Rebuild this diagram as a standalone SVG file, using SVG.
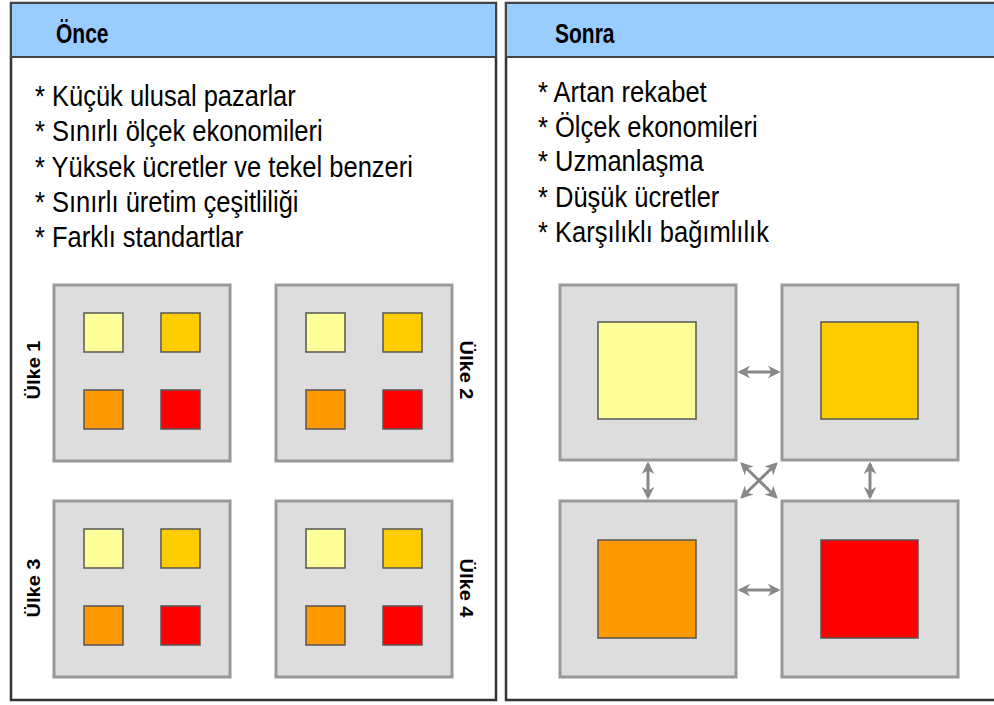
<svg xmlns="http://www.w3.org/2000/svg" width="994" height="705" viewBox="0 0 994 705">
<style>
.panel{fill:#fff;stroke:#333;stroke-width:2.5}
.hdr{fill:#99CCFF;stroke:#444;stroke-width:2}
.title{font-family:"Liberation Sans",Arial,sans-serif;font-weight:bold;font-size:21px;fill:#000}
.item{font-family:"Liberation Sans",Arial,sans-serif;font-size:25.5px;fill:#000}
.lbl{font-family:"Liberation Sans",Arial,sans-serif;font-weight:bold;font-size:18.5px;fill:#000}
.box{fill:#DDDDDD;stroke:#999;stroke-width:3}
.sq{stroke:#555;stroke-width:1.5}
.c1{fill:#FFFF99}.c2{fill:#FFCC00}.c3{fill:#FF9900}.c4{fill:#FF0000}
.arr{stroke:#888;stroke-width:3;fill:none;marker-start:url(#ah);marker-end:url(#ah)}
</style>
<defs>
<marker id="ah" viewBox="0 0 10 10" refX="8" refY="5" markerWidth="4.2" markerHeight="4.2" orient="auto-start-reverse" markerUnits="strokeWidth">
<path d="M0,0 L10,5 L0,10 L3,5 Z" fill="#888"/>
</marker>
</defs>
<g id="panel-once">
<rect class="panel" x="11" y="3" width="485" height="697"/>
<rect class="hdr" x="11" y="3" width="485" height="54"/>
<text class="title" transform="translate(56,43) scale(1,1.3)">Önce</text>
<g class="item">
<text transform="translate(35,106) scale(1,1.16)">* Küçük ulusal pazarlar</text>
<text transform="translate(35,141) scale(1,1.16)">* Sınırlı ölçek ekonomileri</text>
<text transform="translate(35,177) scale(1,1.16)">* Yüksek ücretler ve tekel benzeri</text>
<text transform="translate(35,212) scale(1,1.16)">* Sınırlı üretim çeşitliliği</text>
<text transform="translate(35,247) scale(1,1.16)">* Farklı standartlar</text>
</g>
</g>
<g id="ulke1">
<rect class="box" x="54" y="285" width="176" height="176"/>
<rect class="sq c1" x="84" y="313" width="39" height="39"/>
<rect class="sq c2" x="161" y="313" width="39" height="39"/>
<rect class="sq c3" x="84" y="390" width="39" height="39"/>
<rect class="sq c4" x="161" y="390" width="39" height="39"/>
<text class="lbl" transform="translate(40,370) rotate(-90) scale(1.08,1)" text-anchor="middle">Ülke 1</text>
</g>
<g id="ulke2">
<rect class="box" x="276" y="285" width="176" height="176"/>
<rect class="sq c1" x="306" y="313" width="39" height="39"/>
<rect class="sq c2" x="383" y="313" width="39" height="39"/>
<rect class="sq c3" x="306" y="390" width="39" height="39"/>
<rect class="sq c4" x="383" y="390" width="39" height="39"/>
<text class="lbl" transform="translate(460,370) rotate(90) scale(1.08,1)" text-anchor="middle">Ülke 2</text>
</g>
<g id="ulke3">
<rect class="box" x="54" y="501" width="176" height="176"/>
<rect class="sq c1" x="84" y="529" width="39" height="39"/>
<rect class="sq c2" x="161" y="529" width="39" height="39"/>
<rect class="sq c3" x="84" y="606" width="39" height="39"/>
<rect class="sq c4" x="161" y="606" width="39" height="39"/>
<text class="lbl" transform="translate(40,588) rotate(-90) scale(1.08,1)" text-anchor="middle">Ülke 3</text>
</g>
<g id="ulke4">
<rect class="box" x="276" y="501" width="176" height="176"/>
<rect class="sq c1" x="306" y="529" width="39" height="39"/>
<rect class="sq c2" x="383" y="529" width="39" height="39"/>
<rect class="sq c3" x="306" y="606" width="39" height="39"/>
<rect class="sq c4" x="383" y="606" width="39" height="39"/>
<text class="lbl" transform="translate(460,588) rotate(90) scale(1.08,1)" text-anchor="middle">Ülke 4</text>
</g>
<g id="panel-sonra">
<rect class="panel" x="506" y="3" width="492" height="697"/>
<rect class="hdr" x="506" y="3" width="492" height="54"/>
<text class="title" transform="translate(555,43) scale(1,1.3)">Sonra</text>
<g class="item">
<text transform="translate(538,102) scale(1,1.16)">* Artan rekabet</text>
<text transform="translate(538,137) scale(1,1.16)">* Ölçek ekonomileri</text>
<text transform="translate(538,171) scale(1,1.16)">* Uzmanlaşma</text>
<text transform="translate(538,207) scale(1,1.16)">* Düşük ücretler</text>
<text transform="translate(538,242) scale(1,1.16)">* Karşılıklı bağımlılık</text>
</g>
</g>
<g id="s1">
<rect class="box" x="560" y="285" width="176" height="175"/>
<rect class="sq c1" x="598" y="322" width="98" height="97"/>
</g>
<g id="s2">
<rect class="box" x="782" y="285" width="176" height="175"/>
<rect class="sq c2" x="821" y="322" width="97" height="97"/>
</g>
<g id="s3">
<rect class="box" x="560" y="501" width="176" height="176"/>
<rect class="sq c3" x="598" y="540" width="98" height="98"/>
</g>
<g id="s4">
<rect class="box" x="782" y="501" width="176" height="176"/>
<rect class="sq c4" x="821" y="540" width="97" height="98"/>
</g>
<g id="connectors">
<line class="arr" x1="740" y1="372" x2="778" y2="372"/>
<line class="arr" x1="740" y1="590" x2="778" y2="590"/>
<line class="arr" x1="648" y1="464" x2="648" y2="497"/>
<line class="arr" x1="870" y1="464" x2="870" y2="497"/>
<line class="arr" x1="742" y1="464" x2="776" y2="497"/>
<line class="arr" x1="776" y1="464" x2="742" y2="497"/>
</g>
</svg>
